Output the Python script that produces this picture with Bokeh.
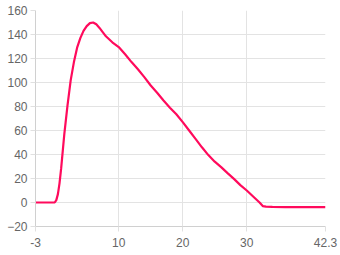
from bokeh.plotting import figure
from bokeh.models import Range1d, FixedTicker
from bokeh.embed import file_html
from bokeh.resources import INLINE

# data
xs = [-3, -2, -1, 0, 0.25, 0.5, 0.75, 1, 1.5, 2, 2.5, 3, 3.5, 4, 4.5, 5, 5.5, 6, 6.5, 7, 7.5, 8, 9,
      10, 11, 12, 13, 14, 15, 16, 17, 18, 19, 20, 21, 22, 23, 24, 25, 26, 27, 28,
      29, 30, 31, 32, 32.5, 33, 34, 36, 38, 40, 42.3]
ys = [0, 0, 0, 0, 2, 7, 16, 28, 57, 81, 102, 117, 129, 137, 143, 147, 149.5, 150, 148.5, 145.5, 142, 138.5, 133.5,
      129.5, 123.5, 117, 111, 104.5, 97.5, 91.5, 85, 79, 73.5, 67, 60, 53, 46, 39.5, 34, 29.5, 24.5, 19.7,
      14.5, 10, 5, 0, -3, -3.5, -3.7, -3.8, -3.9, -3.9, -3.9]
x_ticks = [-3, 10, 20, 30, 42.3]
y_ticks = [-20, 0, 20, 40, 60, 80, 100, 120, 140, 160]

p = figure(width=340, height=255, output_backend="svg", toolbar_location=None,
           x_range=Range1d(-3, 42.3), y_range=Range1d(-20, 160),
           min_border_left=35, min_border_right=15, min_border_top=10, min_border_bottom=29)
p.outline_line_color = None
p.background_fill_color = "white"
p.border_fill_color = "white"

p.line(xs, ys, line_color="#ff0a5c", line_width=2.2)

p.xaxis.ticker = FixedTicker(ticks=x_ticks)
p.yaxis.ticker = FixedTicker(ticks=y_ticks)
p.xaxis.major_label_overrides = {42.3: "42.3", -3: "-3"}
for ax in (p.xaxis[0], p.yaxis[0]):
    ax.axis_line_color = "#d0d0d0"
    ax.major_tick_line_color = "#e0e0e0"
    ax.major_tick_out = 5
    ax.major_tick_in = 0
    ax.minor_tick_line_color = None
    ax.major_label_text_color = "#666666"
    ax.major_label_text_font = "Liberation Sans"
    ax.major_label_text_font_size = "12px"
p.xaxis.major_label_standoff = 6
p.yaxis.major_label_standoff = 3

p.xgrid.ticker = FixedTicker(ticks=x_ticks)
p.ygrid.ticker = FixedTicker(ticks=y_ticks)
p.grid.grid_line_color = "#e3e3e3"
p.grid.grid_line_width = 1

open("out.html", "w").write(file_html(p, INLINE))
